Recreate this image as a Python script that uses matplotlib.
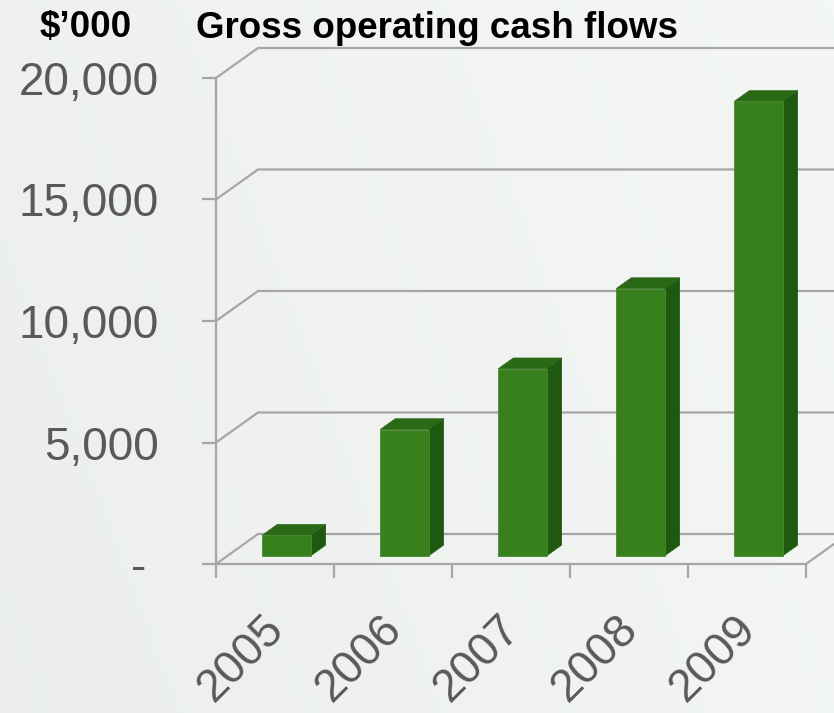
import numpy as np
import matplotlib.pyplot as plt
import matplotlib.transforms as mtransforms
from matplotlib.patches import Polygon

plt.rcParams['font.family'] = ['Liberation Sans', 'DejaVu Sans']

# data
years = ["2005", "2006", "2007", "2008", "2009"]
cash_flows = [850, 5200, 7700, 11000, 18700]
y_ticks = [0, 5000, 10000, 15000, 20000]
y_tick_labels = ["- ", "5,000", "10,000", "15,000", "20,000"]

# 3d look (oblique depth of the floor, in category / value units)
DX = 0.356
DY = 1235
F0, F1 = 0.27, 0.63      # bar front/back position inside the depth
BAR_W = 0.41

GRID = "#a6a6a6"
FRONT = "#38801d"
SIDE = "#1f5810"
TOP = "#2a6a16"

fig = plt.figure(figsize=(8.34, 7.13), dpi=100)

# soft background
bg = fig.add_axes([0, 0, 1, 1], zorder=-5)
gx = np.linspace(0, 1, 200)
gy = np.linspace(0, 1, 200)
GX, GY = np.meshgrid(gx, gy)
shade = 0.93 + 0.025 * GX + 0.008 * GY
bg.imshow(np.dstack([shade - 0.006, shade + 0.006, shade - 0.004]),
          extent=[0, 1, 0, 1], aspect="auto", origin="lower")
bg.axis("off")

ax = fig.add_axes([216 / 834, 149 / 713, 590 / 834, 486 / 713])
ax.set_facecolor("none")
ax.set_xlim(-0.5, 4.5)
ax.set_ylim(0, 20000)

# walls and floor
for v in y_ticks:
    ax.plot([-0.5, -0.5 + DX, 6], [v, v + DY, v + DY], color=GRID, lw=1.6,
            clip_on=False, zorder=1, solid_joinstyle="miter")
ax.plot([4.5, 4.5 + DX], [0, DY], color=GRID, lw=1.6, clip_on=False, zorder=1)

# bars
for i, v in enumerate(cash_flows):
    xl = i - BAR_W / 2
    xr = i + BAR_W / 2
    y0, y1 = F0 * DY, F1 * DY
    d0, d1 = F0 * DX, F1 * DX
    front = [(xl + d0, y0), (xr + d0, y0), (xr + d0, v + y0), (xl + d0, v + y0)]
    side = [(xr + d0, y0), (xr + d1, y1), (xr + d1, v + y1), (xr + d0, v + y0)]
    top = [(xl + d0, v + y0), (xr + d0, v + y0), (xr + d1, v + y1), (xl + d1, v + y1)]
    ax.add_patch(Polygon(side, closed=True, fc=SIDE, ec=SIDE, lw=0.5, zorder=3, clip_on=False))
    ax.add_patch(Polygon(top, closed=True, fc=TOP, ec=TOP, lw=0.5, zorder=3, clip_on=False))
    ax.add_patch(Polygon(front, closed=True, fc=FRONT, ec="#4a8a30", lw=0.6, zorder=4, clip_on=False))

# axes styling
for s in ["top", "right"]:
    ax.spines[s].set_visible(False)
for s in ["left", "bottom"]:
    ax.spines[s].set_color(GRID)
    ax.spines[s].set_linewidth(1.6)
    ax.spines[s].set_zorder(2)

ax.set_yticks(y_ticks)
ax.set_yticklabels(y_tick_labels)
ax.tick_params(axis="y", direction="out", length=10, width=1.6, color=GRID,
               labelsize=33, labelcolor="#595959", pad=31)

ax.set_xticks(np.arange(-0.5, 5, 1.0))
ax.set_xticklabels([])
ax.set_xticks(range(len(years)), minor=True)
ax.set_xticklabels(years, minor=True, rotation=45, ha="right",
                   rotation_mode="anchor")
ax.tick_params(axis="x", which="major", direction="out", length=10, width=1.6,
               color=GRID)
ax.tick_params(axis="x", which="minor", length=0, labelsize=33,
               labelcolor="#595959", pad=31)

shift = mtransforms.ScaledTranslation(-13 / 100, 0, fig.dpi_scale_trans)
for lbl in ax.get_xticklabels(minor=True):
    lbl.set_transform(lbl.get_transform() + shift)

fig.text(86 / 834, 1 - 28 / 713, "$\u2019000", fontsize=26.5, fontweight="bold",
         ha="center", va="center", color="black")
fig.text(196 / 834, 1 - 28 / 713, "Gross operating cash flows", fontsize=26.5,
         fontweight="bold", ha="left", va="center", color="black")

fig.savefig("out.png", dpi=100)
